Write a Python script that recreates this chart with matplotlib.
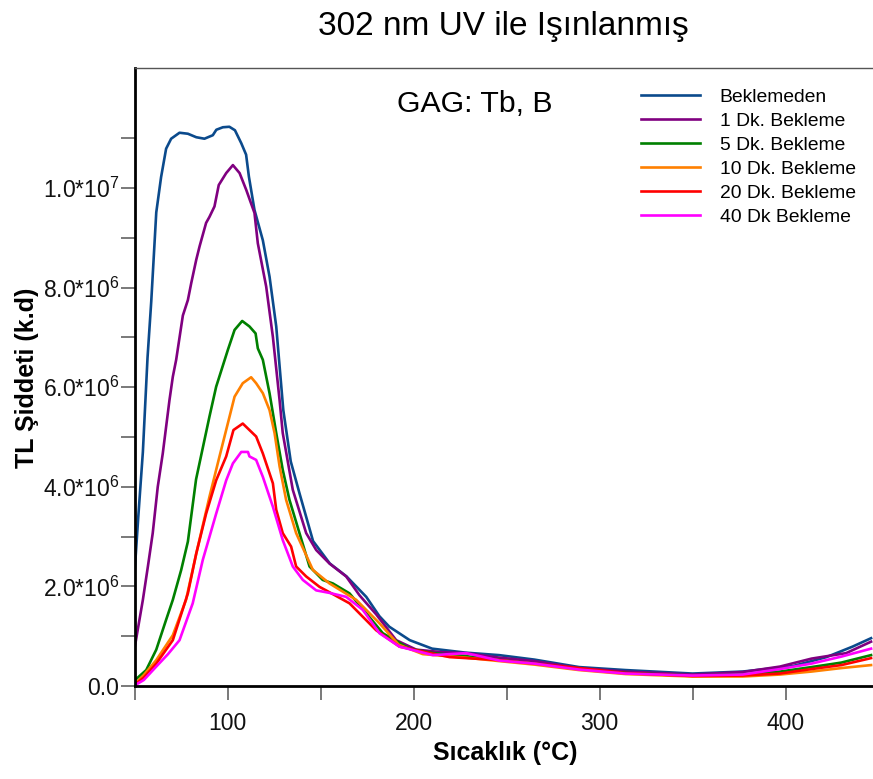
import matplotlib
matplotlib.use("Agg")
import matplotlib.pyplot as plt
from matplotlib.ticker import FixedLocator, FuncFormatter, MultipleLocator

plt.rcParams["font.family"] = ["Liberation Sans", "DejaVu Sans"]
plt.rcParams["mathtext.fontset"] = "custom"
plt.rcParams["mathtext.rm"] = "Liberation Sans"
plt.rcParams["mathtext.it"] = "Liberation Sans"
plt.rcParams["mathtext.bf"] = "Liberation Sans:bold"
plt.rcParams["mathtext.default"] = "regular"

# Glow curves: temperature (°C) and TL intensity (x1e6 counts)
t_beklemeden = [50, 52, 54.5, 57, 59, 61.7, 64.3, 67, 69.7, 74.2, 78.7, 83.2, 87.6, 92.1, 94, 97.5,
                101, 104, 107.4, 110, 111.5, 114.5, 119, 122.6, 126.2, 130, 134, 138.7, 146, 155,
                164, 174.6, 181.7, 187, 198, 210, 228, 246, 265, 289, 314, 350, 377, 404, 422, 436, 446]
v_beklemeden = [2.25, 3.38, 4.70, 6.59, 7.72, 9.51, 10.22, 10.79, 10.99, 11.11, 11.09, 11.02, 10.99,
                11.06, 11.17, 11.22, 11.23, 11.16, 10.90, 10.67, 10.23, 9.56, 8.95, 8.22, 7.22, 5.54,
                4.51, 3.87, 2.91, 2.46, 2.20, 1.79, 1.40, 1.19, 0.92, 0.75, 0.67, 0.62, 0.53, 0.38,
                0.32, 0.25, 0.29, 0.40, 0.58, 0.79, 0.96]

t_1dk = [50, 54.5, 57.2, 59.8, 62.5, 65.2, 68.8, 70.6, 72.4, 76, 78.7, 80.5, 83.2, 85, 88.5, 90.3,
         93, 95.3, 99.3, 102.9, 106.5, 110.1, 114.5, 116.3, 120.8, 124.4, 128, 129.7, 135.1, 142.3,
         147.7, 154.8, 163.8, 171, 179.9, 190.7, 201.5, 215, 228.3, 246, 265, 289, 314, 350, 377,
         397, 414, 432.6, 446]
v_1dk = [0.75, 1.73, 2.40, 3.07, 4.00, 4.67, 5.74, 6.21, 6.55, 7.44, 7.75, 8.09, 8.56, 8.83, 9.30,
         9.42, 9.63, 10.06, 10.30, 10.46, 10.30, 9.96, 9.50, 8.89, 8.02, 7.01, 5.74, 5.08, 3.94,
         3.07, 2.73, 2.46, 2.20, 1.82, 1.44, 0.92, 0.73, 0.68, 0.66, 0.57, 0.50, 0.36, 0.29, 0.23,
         0.28, 0.39, 0.55, 0.66, 0.89]

t_5dk = [50, 56.3, 61.7, 67, 70.6, 75.1, 78.7, 83.1, 90.3, 93.9, 100.2, 103.8, 107.9, 111.8, 115.1,
         116.3, 119, 122.6, 126.2, 129.7, 133.3, 138.7, 144.1, 151.2, 156.6, 165.6, 174.6, 183.5,
         197.8, 210.4, 228, 246.2, 265, 289, 314, 350, 377, 397, 414, 430, 446]
v_5dk = [0.11, 0.32, 0.73, 1.33, 1.73, 2.33, 2.90, 4.15, 5.41, 6.01, 6.75, 7.15, 7.33, 7.22, 7.08,
         6.78, 6.55, 5.88, 5.08, 4.34, 3.74, 3.07, 2.40, 2.13, 2.06, 1.86, 1.46, 1.06, 0.75, 0.66,
         0.60, 0.52, 0.45, 0.34, 0.26, 0.21, 0.23, 0.29, 0.38, 0.47, 0.62]

t_10dk = [50, 55, 61.7, 70.6, 77.7, 83.2, 90.3, 95.7, 101.1, 103.8, 108.2, 112.7, 115.4, 119, 122.6,
          125.3, 128, 131.5, 136.9, 145.9, 154.8, 169.2, 181.7, 192, 205, 228, 246, 265, 289, 314,
          350, 377, 397, 414, 430, 446]
v_10dk = [0.03, 0.22, 0.52, 1.02, 1.73, 2.66, 3.80, 4.61, 5.41, 5.81, 6.08, 6.20, 6.08, 5.88, 5.54,
          5.08, 4.41, 3.74, 3.07, 2.33, 2.06, 1.73, 1.26, 0.83, 0.64, 0.57, 0.50, 0.43, 0.32, 0.24,
          0.19, 0.19, 0.23, 0.29, 0.36, 0.42]

t_20dk = [50, 55, 61.7, 70.6, 78.7, 83.2, 88.5, 93.9, 99.3, 103.2, 108.2, 111.8, 115.4, 119, 124.4,
          126.2, 129.7, 134.2, 136.9, 142.3, 149.5, 153, 165.6, 179.9, 192.5, 219.4, 246.2, 265,
          289, 314, 350, 377, 397, 414, 430, 446]
v_20dk = [0.02, 0.17, 0.45, 0.92, 1.86, 2.66, 3.46, 4.13, 4.61, 5.14, 5.27, 5.14, 5.01, 4.67, 4.07,
          3.54, 3.07, 2.80, 2.40, 2.20, 1.99, 1.92, 1.66, 1.12, 0.79, 0.58, 0.52, 0.45, 0.36, 0.26,
          0.20, 0.21, 0.25, 0.34, 0.42, 0.56]

t_40dk = [50, 55, 61.7, 68, 74.2, 81.3, 86.7, 93.9, 99.3, 102.9, 107.4, 111, 111.8, 115.4, 119, 124.4,
          129.7, 135.1, 140.5, 147.7, 154.8, 163.8, 172.7, 181.7, 192.5, 210.4, 228.3, 246.2, 265,
          289, 314, 350, 377, 397, 414, 430, 446]
v_40dk = [0.01, 0.12, 0.39, 0.64, 0.92, 1.66, 2.53, 3.46, 4.13, 4.47, 4.70, 4.70, 4.61, 4.54, 4.20,
          3.60, 2.93, 2.40, 2.13, 1.92, 1.87, 1.79, 1.53, 1.06, 0.79, 0.62, 0.66, 0.51, 0.45, 0.33,
          0.25, 0.21, 0.23, 0.34, 0.45, 0.59, 0.75]

series_labels = ["Beklemeden", "1 Dk. Bekleme", "5 Dk. Bekleme", "10 Dk. Bekleme",
                 "20 Dk. Bekleme", "40 Dk Bekleme"]
series_colors = ["#0b4a8c", "#800080", "#008000", "#ff8000", "#ff0000", "#ff00ff"]
series_data = [(t_beklemeden, v_beklemeden), (t_1dk, v_1dk), (t_5dk, v_5dk),
               (t_10dk, v_10dk), (t_20dk, v_20dk), (t_40dk, v_40dk)]

y_major_ticks = [0, 2e6, 4e6, 6e6, 8e6, 1e7]
y_minor_ticks = [1e6, 3e6, 5e6, 7e6, 9e6, 1.1e7]

W, H = 873, 779
fig = plt.figure(figsize=(W / 100, H / 100), dpi=100)

ax_left, ax_right, ax_top, ax_bottom = 134.5, 878.5, 68, 686
ax = fig.add_axes([ax_left / W, 1 - ax_bottom / H, (ax_right - ax_left) / W, (ax_bottom - ax_top) / H])
ax.set_facecolor("none")

for (t, v), lab, col in zip(series_data, series_labels, series_colors):
    ax.plot(t, [x * 1e6 for x in v], color=col, lw=1.9, label=lab, solid_joinstyle="round")

ax.set_xlim(50, 450)
ax.set_ylim(0, 1.241e7)
ax.xaxis.set_major_locator(MultipleLocator(100))
ax.xaxis.set_minor_locator(MultipleLocator(50))
ax.yaxis.set_major_locator(FixedLocator(y_major_ticks))
ax.yaxis.set_minor_locator(FixedLocator(y_minor_ticks))


def sci_fmt(val, pos):
    if val == 0:
        return "0.0"
    exp = 0
    m = val
    while abs(m) >= 10:
        m /= 10
        exp += 1
    return f"{m:.1f}*10$^{{{exp}}}$"


ax.yaxis.set_major_formatter(FuncFormatter(sci_fmt))
ax.tick_params(axis="both", which="both", direction="out", length=10, width=1.1,
               color="#555555", labelsize=16.5, labelcolor="#111111")
ax.tick_params(axis="y", pad=1)
ax.tick_params(axis="x", pad=9)

for side in ["left", "bottom"]:
    ax.spines[side].set_linewidth(2.0)
    ax.spines[side].set_color("black")
ax.spines["top"].set_linewidth(1.0)
ax.spines["top"].set_color("#555555")
ax.spines["right"].set_visible(False)

fig.text(503 / W, 1 - 27 / H, "302 nm UV ile Işınlanmış", ha="center", va="center", fontsize=24)
fig.text(397 / W, 1 - 104 / H, "GAG: Tb, B", ha="left", va="center", fontsize=21.8)
fig.text(505 / W, 1 - 753 / H, "Sıcaklık (°C)", ha="center", va="center", fontsize=18,
         fontweight="bold")
fig.text(27 / W, 1 - 378 / H, "TL Şiddeti (k.d)", ha="center", va="center", fontsize=18,
         fontweight="bold", rotation=90)

ax.legend(loc="upper left", bbox_to_anchor=(641 / W, 1 - 88 / H), bbox_transform=fig.transFigure,
          frameon=False, fontsize=13.9, handlelength=3.05, handletextpad=1.03, labelspacing=0.34,
          borderpad=0, borderaxespad=0)

fig.savefig("out.png", dpi=100)
